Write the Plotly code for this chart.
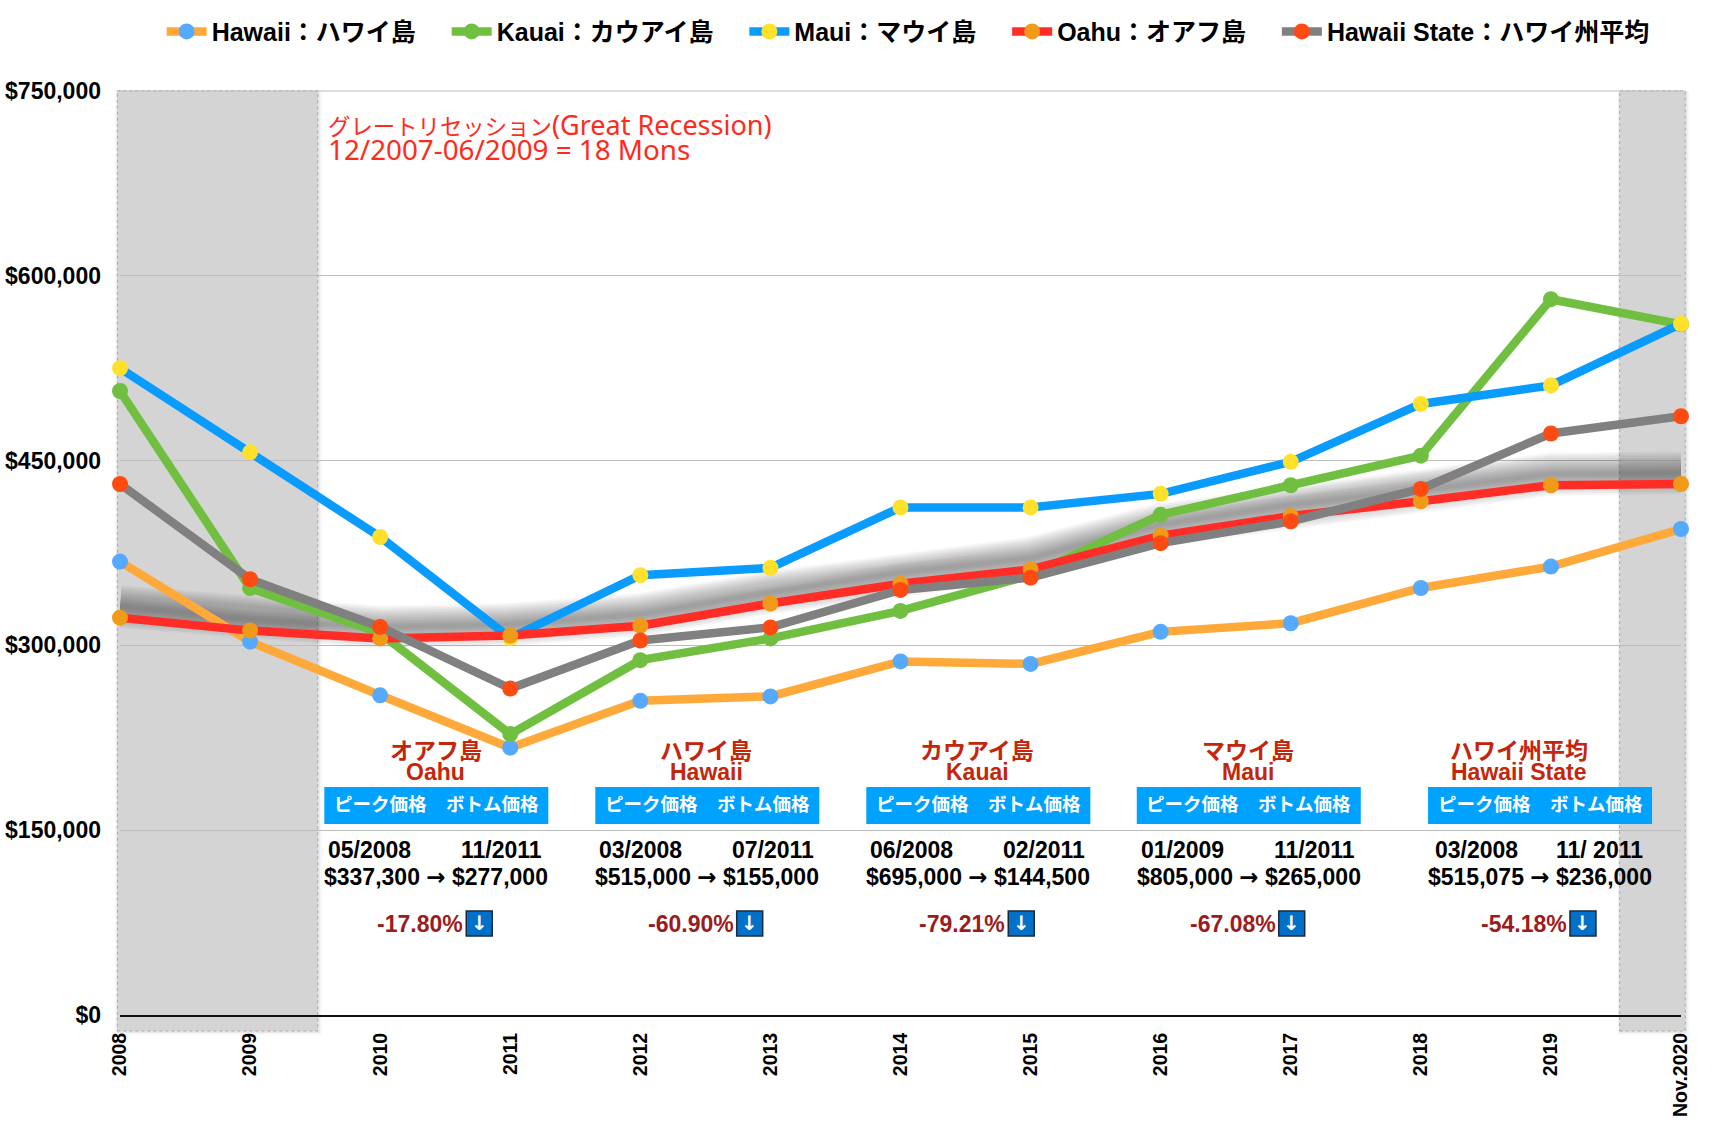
import plotly.graph_objects as go

W, H = 1717, 1130
L, R, T, B = 119.8, 1680.7, 91.3, 1015.0

years = ["2008","2009","2010","2011","2012","2013","2014","2015","2016","2017","2018","2019","Nov.2020"]
hawaii = [368000,303000,259500,217000,255000,258600,287000,285000,311000,318000,346600,364000,394500]
kauai  = [506500,346500,310000,228000,288000,305700,328000,357000,406000,430000,454000,581000,560700]
maui   = [525000,456700,388000,306000,357000,363000,412000,412000,423000,449000,496000,511000,561000]
oahu   = [322500,312000,305700,308000,316000,334000,350000,361700,389000,405000,417000,430000,431000]
state  = [431000,353700,315000,265000,304000,314600,345000,355000,383000,400700,427000,472000,486000]

GAP = "\u00a0\u00a0\u00a0\u2009"
names = ["Hawaii：ハワイ島"+GAP,"Kauai：カウアイ島"+GAP,"Maui：マウイ島"+GAP,"Oahu：オアフ島"+GAP,"Hawaii State：ハワイ州平均"]
line_colors = ["#FFA93A","#70BF41","#0A9BFF","#FF2D26","#808080"]
marker_colors = ["#55A9FF","#70BF41","#FFE12B","#F09A1A","#FF4A11"]
series = [hawaii,kauai,maui,oahu,state]

BOLD = "Liberation Sans, Noto Sans CJK JP, sans-serif"
def px(x): return (x-L)/(R-L)
def py(y): return (B-y)/(B-T)
def D(v): return v*1.0949

fig = go.Figure()

# soft shadow of the Oahu line
shadow_offset = 9000
for width in range(4,46,3):
    fig.add_trace(go.Scatter(x=years, y=[v+shadow_offset for v in oahu], mode="lines", showlegend=False,
        hoverinfo="skip", line=dict(color="rgba(40,40,40,0.035)", width=width)))

for name,vals,lc,mc in zip(names,series,line_colors,marker_colors):
    fig.add_trace(go.Scatter(x=years,y=vals,mode="lines+markers",name=name,cliponaxis=False,
        line=dict(color=lc,width=8.5),marker=dict(color=mc,size=16,line=dict(width=0))))

shapes=[]
for x0,x1 in [(117.2,317.5),(1619.4,1685.0)]:
    for off,a in [(2,0.12),(4,0.06)]:
        shapes.append(dict(type="rect",xref="paper",yref="paper",x0=px(x0-off/2),x1=px(x1+off),y0=py(1031+off),y1=py(91),layer="below",
            fillcolor=f"rgba(120,120,120,{a})",line=dict(width=0)))
    shapes.append(dict(type="rect",xref="paper",yref="paper",x0=px(x0),x1=px(x1),y0=py(1031),y1=py(91),layer="below",
        fillcolor="#D4D4D4",line=dict(color="#9a9a9a",width=0.75,dash="dot")))
shapes.append(dict(type="line",xref="paper",yref="paper",x0=px(117.2),x1=1,y0=1,y1=1,line=dict(color="#BDBDBD",width=1),layer="below"))

ann=[]
def text(x,y,t,size,color="#000",family=BOLD,xanchor="center",bold=True):
    s=f"<b>{t}</b>" if bold else t
    ann.append(dict(xref="paper",yref="paper",x=px(x),y=py(y),text=s,showarrow=False,xanchor=xanchor,yanchor="middle",
        font=dict(family=family,size=size,color=color)))

RED="#C4260C"; DARK="#9B1C1C"
ARROW='<span style="font-family:DejaVu Sans">→</span>'
group_names = [("オアフ島","Oahu"),("ハワイ島","Hawaii"),("カウアイ島","Kauai"),("マウイ島","Maui"),("ハワイ州平均","Hawaii State")]
name_centres = [398,645,892.5,1140,1387]
box_lefts = [296,543.5,791,1038,1304]
date_left = ["05/2008","03/2008","06/2008","01/2009","03/2008"]
date_right = ["11/2011","07/2011","02/2011","11/2011","11/ 2011"]
date_left_x = [337.5,584.5,832.5,1079.5,1348.5]
date_right_x = [458,705.5,953.5,1200.5,1461]
prices = [("$337,300","$277,000"),("$515,000","$155,000"),("$695,000","$144,500"),("$805,000","$265,000"),("$515,075","$236,000")]
pcts = ["-17.80%","-60.90%","-79.21%","-67.08%","-54.18%"]
pct_x = [383.5,630.5,878.5,1125.5,1391.5]
icon_x = [437.5,684.5,932.5,1179.5,1445.5]

for i in range(5):
    b=D(box_lefts[i])
    text(D(name_centres[i]),751,group_names[i][0],23,RED)
    text(D(name_centres[i]),772,group_names[i][1],23,RED)
    shapes.append(dict(type="rect",xref="paper",yref="paper",x0=px(b),x1=px(b+224),y0=py(824),y1=py(787),
        fillcolor="#00A2FF",line=dict(width=0),layer="above"))
    text(b+56,805,"ピーク価格",18.5,"#fff")
    text(b+168,805,"ボトム価格",18.5,"#fff")
    text(D(date_left_x[i]),850,date_left[i],23)
    text(D(date_right_x[i]),850,date_right[i],23)
    text(b+112,877.5,f"{prices[i][0]} {ARROW} {prices[i][1]}",23)
    text(D(pct_x[i]),924,pcts[i],23,DARK)
    ix=D(icon_x[i])
    shapes.append(dict(type="rect",xref="paper",yref="paper",x0=px(ix-13),x1=px(ix+13),y0=py(936),y1=py(911),
        fillcolor="#0070C9",line=dict(color="#1c2a3a",width=1.5),layer="above"))
    text(ix,923.5,"↓",20,"#fff","DejaVu Sans")

RF="Noto Sans, Noto Sans CJK JP, sans-serif"
text(D(297.5),125,'<span style="font-size:22.4px">グレートリセッション</span>(Great Recession)',27,"#FF2A1A",RF,"left",False)
text(D(297.5),149,"12/2007-06/2009 = 18 Mons",27.8,"#FF2A1A",RF,"left",False)

fig.update_layout(
    width=W,height=H,paper_bgcolor="#fff",plot_bgcolor="rgba(0,0,0,0)",
    margin=dict(l=L,r=W-R,t=T,b=H-B,autoexpand=False),
    showlegend=True,shapes=shapes,annotations=ann,
    legend=dict(orientation="h",x=px(D(152)-5),y=py(32),xanchor="left",yanchor="middle",itemwidth=40,
        font=dict(family=BOLD,size=25,color="#000",weight="bold"),itemsizing="trace",bgcolor="rgba(0,0,0,0)",traceorder="normal"),
    xaxis=dict(type="category",range=[0,12],showgrid=False,tickangle=-90,ticks="",ticklabelstandoff=8,
        tickfont=dict(family=BOLD,size=19.5,color="#000",weight="bold"),showline=True,linecolor="#111",linewidth=2,zeroline=False),
    yaxis=dict(range=[0,750000],tickvals=[0,150000,300000,450000,600000,750000],tickformat="$,.0f",
        gridcolor="#BDBDBD",gridwidth=1,ticks="",ticklabelstandoff=18,zeroline=False,showline=False,
        tickfont=dict(family=BOLD,size=23,color="#000",weight="bold")),
)
fig.write_html("out.html",config={"displayModeBar":False},post_script="document.body.style.margin='0';document.body.style.overflow='hidden';")
